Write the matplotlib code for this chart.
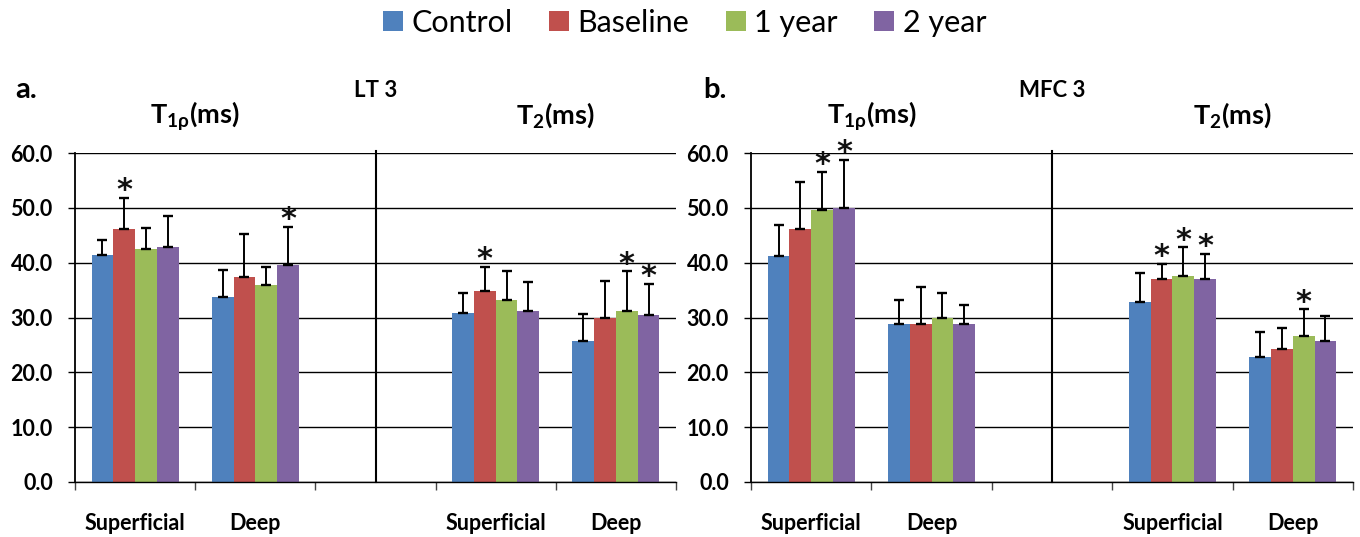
import matplotlib
matplotlib.use('Agg')
import matplotlib.pyplot as plt
from matplotlib.transforms import blended_transform_factory
import numpy as np

plt.rcParams['font.family'] = ['Lato', 'DejaVu Sans']
plt.rcParams['mathtext.fontset'] = 'custom'
plt.rcParams['mathtext.rm'] = 'Lato:bold'
plt.rcParams['mathtext.it'] = 'Lato:bold'
plt.rcParams['mathtext.bf'] = 'Lato:bold'
plt.rcParams['mathtext.fallback'] = 'stixsans'

SERIES = ['Control', 'Baseline', '1 year', '2 year']
COLORS = ['#4F81BD', '#C0504D', '#9BBB59', '#8064A2']
LAYERS = ['Superficial', 'Deep']
Y_TICKS = [0, 10, 20, 30, 40, 50, 60]
PANEL_TITLES = ['LT 3', 'MFC 3']
PANEL_LETTERS = ['a.', 'b.']
MEASURE_TITLES = [r'$\mathrm{T_{1\rho}(ms)}$', r'$\mathrm{T_{2}(ms)}$']

# rows = series (Control, Baseline, 1 year, 2 year); cols = layers (Superficial, Deep)
LT3_T1RHO_MEAN = [[41.4, 33.8], [46.2, 37.3], [42.5, 35.9], [42.8, 39.6]]
LT3_T1RHO_SD = [[2.8, 4.8], [5.6, 7.9], [3.8, 3.4], [5.8, 6.9]]
LT3_T1RHO_SIG = [[0, 0], [1, 0], [0, 0], [0, 1]]

LT3_T2_MEAN = [[30.9, 25.7], [34.9, 30.0], [33.2, 31.2], [31.2, 30.4]]
LT3_T2_SD = [[3.6, 4.9], [4.4, 6.7], [5.2, 7.2], [5.2, 5.8]]
LT3_T2_SIG = [[0, 0], [1, 0], [0, 1], [0, 1]]

MFC3_T1RHO_MEAN = [[41.2, 28.9], [46.2, 28.9], [49.6, 30.0], [49.9, 28.9]]
MFC3_T1RHO_SD = [[5.6, 4.3], [8.5, 6.7], [7.0, 4.4], [8.9, 3.3]]
MFC3_T1RHO_SIG = [[0, 0], [0, 0], [1, 0], [1, 0]]

MFC3_T2_MEAN = [[32.9, 22.8], [37.1, 24.2], [37.6, 26.7], [37.1, 25.7]]
MFC3_T2_SD = [[5.3, 4.6], [2.7, 3.8], [5.2, 4.8], [4.5, 4.6]]
MFC3_T2_SIG = [[0, 0], [1, 0], [1, 1], [1, 0]]

PANELS = [
    [(LT3_T1RHO_MEAN, LT3_T1RHO_SD, LT3_T1RHO_SIG), (LT3_T2_MEAN, LT3_T2_SD, LT3_T2_SIG)],
    [(MFC3_T1RHO_MEAN, MFC3_T1RHO_SD, MFC3_T1RHO_SIG), (MFC3_T2_MEAN, MFC3_T2_SD, MFC3_T2_SIG)],
]

W, H = 1360, 537
fig = plt.figure(figsize=(W / 100, H / 100), dpi=100)

axes_px = [(75, 601), (751, 602)]
y0_px, y60_px = 482, 153
group_starts = [0, 3]
bar_w = 0.181

for p, (ax_left, ax_w) in enumerate(axes_px):
    ax = fig.add_axes([ax_left / W, (H - y0_px) / H, ax_w / W, (y0_px - y60_px) / H])
    ax.set_xlim(-0.5, 4.5)
    ax.set_ylim(0, 60)
    ax.set_axisbelow(True)
    ax.yaxis.grid(True, color='black', lw=1.0)
    for m, (means, sds, sigs) in enumerate(PANELS[p]):
        base = np.arange(len(LAYERS)) + group_starts[m]
        for s, name in enumerate(SERIES):
            xs = base + (s - 1.5) * bar_w
            mv = np.array(means[s])
            sd = np.array(sds[s])
            ax.bar(xs, mv, width=bar_w, color=COLORS[s], label=name if (m == 0) else None,
                   zorder=2)
            ax.errorbar(xs, mv, yerr=[np.zeros_like(sd), sd], fmt='none', ecolor='black',
                        elinewidth=1.4, capsize=3.6, capthick=1.7, zorder=3)
            for k in range(len(LAYERS)):
                if sigs[s][k]:
                    ax.annotate('*', xy=(xs[k], mv[k] + sd[k]), xytext=(0, -1),
                                textcoords='offset points', ha='center', va='baseline',
                                fontsize=22, fontweight='bold', family='DejaVu Sans',
                                color='#111111', annotation_clip=False, zorder=4)
        # measure title
        trans = blended_transform_factory(ax.transData, ax.transAxes)
        ax.text(group_starts[m] + 0.5, 1.09, MEASURE_TITLES[m], transform=trans,
                ha='center', va='baseline', fontsize=19.5)
    # divider
    ax.plot([2, 2], [0, 60.3], color='black', lw=1.5, zorder=3, clip_on=False)
    trans = blended_transform_factory(ax.transData, ax.transAxes)
    ax.text(2, 1.17, PANEL_TITLES[p], transform=trans, ha='center', va='baseline',
            fontsize=16, fontweight='bold')

    ax.set_yticks(Y_TICKS)
    ax.set_yticklabels([f'{v:.1f}' for v in Y_TICKS], fontsize=15.5, fontweight='bold')
    ax.tick_params(axis='y', length=5, width=1, pad=11, colors='black')
    ax.set_xticks([0, 1, 3, 4])
    ax.set_xticklabels(LAYERS * 2, fontsize=15.5, fontweight='bold')
    ax.set_xticks(np.arange(-0.5, 5.0, 1.0), minor=True)
    ax.tick_params(axis='x', which='major', length=0, pad=22)
    ax.tick_params(axis='x', which='minor', length=6, width=1, direction='out', color='#444444')
    for sp in ['top', 'right']:
        ax.spines[sp].set_visible(False)
    ax.spines['left'].set_linewidth(1.3)
    ax.spines['bottom'].set_linewidth(1.0)

    letter_x = [15, 703][p]
    fig.text(letter_x / W, 1 - 98 / H, PANEL_LETTERS[p], ha='left', va='baseline',
             fontsize=21, fontweight='bold')

    if p == 0:
        handles, labels = ax.get_legend_handles_labels()

fig.legend(handles, labels, loc='center', bbox_to_anchor=(684.5 / W, 1 - 23 / H), ncol=4,
           frameon=False, fontsize=22, handlelength=0.65, handleheight=0.65,
           handletextpad=0.28, columnspacing=1.2, borderpad=0)

fig.savefig('out.png', dpi=100)
